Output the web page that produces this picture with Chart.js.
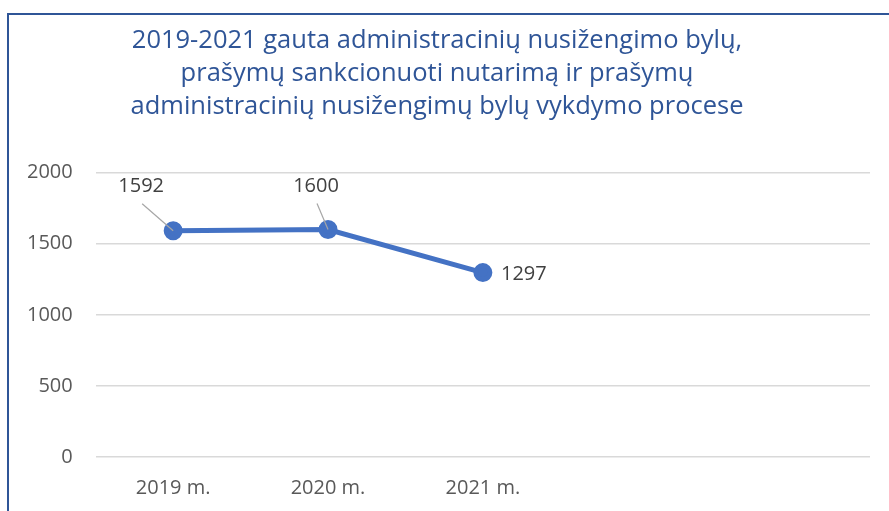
<!DOCTYPE html>
<html>
<head>
<meta charset="utf-8">
<script src="https://cdn.jsdelivr.net/npm/chart.js@4.4.0/dist/chart.umd.min.js"></script>
<style>
  html, body { margin: 0; padding: 0; background: #fff; }
  #frame {
    position: absolute; left: 7px; top: 13px; width: 900px; height: 520px;
    border-left: 2px solid #2f5597; border-top: 2px solid #2f5597;
  }
  #wrap { position: absolute; left: 0; top: 0; width: 889px; height: 511px; }
</style>
</head>
<body>
<div id="frame"></div>
<div id="wrap"><canvas id="chart"></canvas></div>
<script>
const categories = ["2019 m.", "2020 m.", "2021 m.", "", ""];
const cases = [1592, 1600, 1297, null, null];
const yTicks = [0, 500, 1000, 1500, 2000];
const titleLines = [
    "2019-2021 gauta administracinių nusižengimo bylų,",
    "prašymų sankcionuoti nutarimą ir prašymų",
    "administracinių nusižengimų bylų vykdymo procese"
];

// label offsets (px) relative to each point, and whether to draw a leader line
const labelPlacement = [
    { dx: -32, dy: -44, leader: true },
    { dx: -12, dy: -43, leader: true },
    { dx: 41, dy: 2, leader: false }
];

const labelsPlugin = {
    id: "pointLabels",
    afterDatasetsDraw(chart) {
        const ctx = chart.ctx;
        const meta = chart.getDatasetMeta(0);
        ctx.save();
        ctx.font = "20px 'Open Sans', sans-serif";
        ctx.fillStyle = "#404040";
        ctx.textAlign = "center";
        ctx.textBaseline = "middle";
        meta.data.forEach(function(pt, i) {
            if (cases[i] == null) return;
            const p = labelPlacement[i];
            const lx = pt.x + p.dx;
            const ly = pt.y + p.dy;
            if (p.leader) {
                ctx.strokeStyle = "#a6a6a6";
                ctx.lineWidth = 1.2;
                ctx.beginPath();
                ctx.moveTo(lx + 1, ly + 17);
                ctx.lineTo(pt.x, pt.y);
                ctx.stroke();
            }
            ctx.fillText(String(cases[i]), lx, ly);
        });
        ctx.restore();
    }
};

new Chart(document.getElementById("chart").getContext("2d"), {
    type: "line",
    data: {
        labels: categories,
        datasets: [{
            data: cases,
            borderColor: "#4472c4",
            backgroundColor: "#4472c4",
            borderWidth: 5,
            pointRadius: 7,
            pointHoverRadius: 7,
            tension: 0,
            spanGaps: false
        }]
    },
    options: {
        responsive: true,
        maintainAspectRatio: false,
        animation: false,
        layout: { padding: { left: 4, right: 19, top: 0, bottom: -8 } },
        plugins: {
            legend: { display: false },
            tooltip: { enabled: false },
            title: {
                display: true,
                text: titleLines,
                color: "#2f5597",
                font: { family: "'Open Sans', sans-serif", size: 25.5, weight: "normal", lineHeight: 1.29 },
                padding: { top: 24, bottom: 50 }
            }
        },
        scales: {
            x: {
                offset: true,
                grid: { display: false, drawTicks: false },
                border: { display: false },
                ticks: { color: "#595959", font: { family: "'Open Sans', sans-serif", size: 20 }, padding: 19 }
            },
            y: {
                min: 0,
                max: 2000,
                afterBuildTicks: function(axis) { axis.ticks = yTicks.map(v => ({ value: v })); },
                grid: { color: "#d9d9d9", lineWidth: 1.5, drawTicks: false },
                border: { display: false },
                ticks: {
                    color: "#595959",
                    font: { family: "'Open Sans', sans-serif", size: 20 },
                    padding: 23,
                    callback: function(value) { return String(value); }
                }
            }
        }
    },
    plugins: [labelsPlugin]
});
</script>
</body>
</html>
